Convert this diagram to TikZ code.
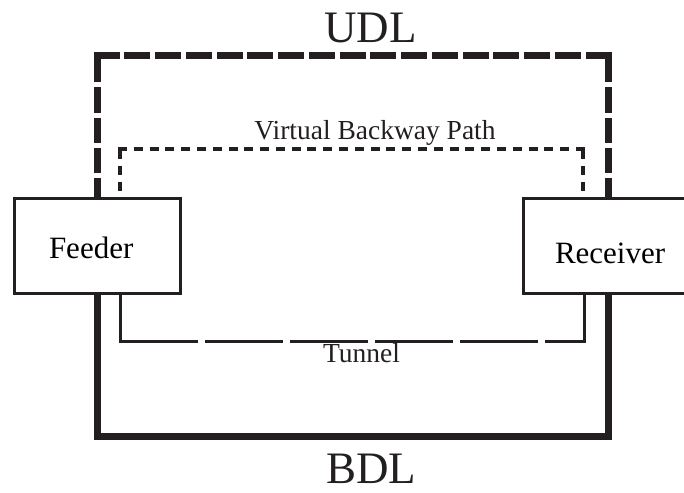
\documentclass[tikz,border=0pt]{standalone}
\usepackage{fontspec}
\setmainfont{Liberation Serif}
\definecolor{ink}{HTML}{231F20}
\tikzset{
  box/.style={draw=ink, line width=3pt, rectangle, inner sep=0pt,
    minimum height=95pt, text depth=0pt, align=left, font=\fontsize{31}{36}\selectfont},
  udlline/.style={draw=ink, line width=7pt, line cap=rect},
  bdlline/.style={draw=ink, line width=7pt, miter limit=10},
  vbpline/.style={draw=ink, line width=4pt, line cap=rect},
  tunline/.style={draw=ink, line width=3pt,
    dash pattern=on 124.5pt off 7pt on 78pt off 7pt on 78pt off 7pt on 78pt off 7pt on 78pt off 7pt on 200pt off 7pt},
  biglabel/.style={anchor=base, text=ink, inner sep=0pt, font=\fontsize{45}{54}\selectfont},
  smalllabel/.style={anchor=base, text=ink, inner sep=0pt, font=\fontsize{27.5}{32}\selectfont}
}
\begin{document}
\begin{tikzpicture}[x=1pt,y=-1pt]
\useasboundingbox (0,0) rectangle (684,492);
\clip (0,0) rectangle (684,492);

% the two end points
\node[box, minimum width=166pt, text width=96pt, text height=25pt] (feeder) at (97,245.5) {Feeder};
\node[box, minimum width=170pt, text width=106pt, text height=35pt] (receiver) at (608,245.5) {Receiver};

% corners of the upper (UDL) loop, the backway path and the tunnel
\coordinate (tl) at (97,56);
\coordinate (tr) at (608,56);
\coordinate (bl) at (97,436);
\coordinate (br) at (608,436);
\coordinate (vtl) at (120,149);
\coordinate (vtr) at (583,149);
\coordinate (tunL) at (120,341);
\coordinate (tunR) at (584,341);

% UDL: long dashes over the top
\draw[udlline, dash pattern=on 18pt off 12pt, dash phase=25pt] (tl) -- (feeder.north);
\draw[udlline, dash pattern=on 18pt off 12pt, dash phase=25pt] (tr) -- (receiver.north);
\draw[udlline, dash pattern=on 19pt off 11.75pt] (tl) -- (tr);

% BDL: solid line underneath
\draw[bdlline] (feeder.south) -- (bl) -- (br) -- (receiver.south);

% virtual backway path: short dashes
\draw[vbpline, dash pattern=on 5pt off 11pt, dash phase=13pt] (vtl) -- (feeder.north -| vtl);
\draw[vbpline, dash pattern=on 5pt off 11pt, dash phase=13pt] (vtr) -- (receiver.north -| vtr);
\draw[vbpline, dash pattern=on 5pt off 10.79pt] (vtl) -- (vtr);

% tunnel
\draw[tunline] (feeder.south -| tunL) -- (tunL) -- (tunR) -- (receiver.south -| tunR);

% labels
\node[biglabel] (udl) at (370.5,43) {UDL};
\node[biglabel] (bdl) at (371,483) {BDL};
\node[smalllabel] (vbp) at (375,139) {Virtual Backway Path};
\node[smalllabel] (tun) at (361.5,362) {Tunnel};
\end{tikzpicture}
\end{document}
